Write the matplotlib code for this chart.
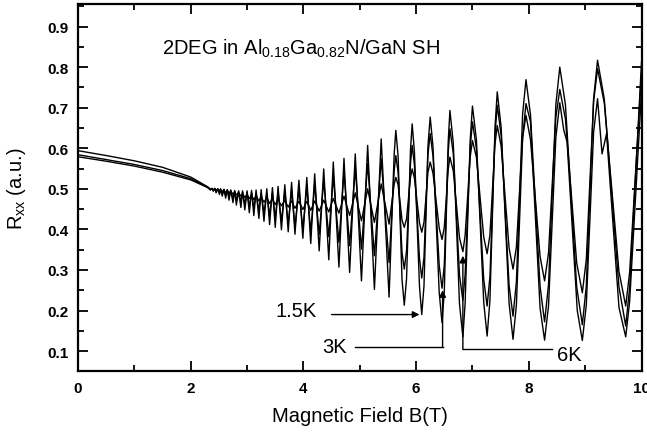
import matplotlib
matplotlib.use("Agg")
import matplotlib.pyplot as plt
from matplotlib.ticker import MultipleLocator

plt.rcParams['font.family'] = ['Liberation Sans', 'DejaVu Sans']
plt.rcParams['mathtext.fontset'] = 'custom'
plt.rcParams['mathtext.rm'] = 'Liberation Sans'
plt.rcParams['mathtext.it'] = 'Liberation Sans:italic'

# smooth low-field part (T)
B_LOW = [0.0, 0.5, 1.0, 1.5, 2.0, 2.3]
R_LOW_15K = [0.579, 0.568, 0.556, 0.541, 0.522, 0.503]
R_LOW_3K = [0.584, 0.572, 0.560, 0.545, 0.525, 0.504]
R_LOW_6K = [0.594, 0.582, 0.569, 0.553, 0.529, 0.505]

# positions of the SdH minima and maxima (T)
B_MIN = [2.35, 2.40, 2.45, 2.51, 2.56, 2.62, 2.68, 2.75, 2.81, 2.89, 2.96, 3.04,
         3.12, 3.21, 3.30, 3.40, 3.50, 3.61, 3.73, 3.85, 3.99, 4.13, 4.28, 4.45,
         4.63, 4.82, 5.03, 5.26, 5.52, 5.79, 6.10, 6.46, 6.83, 7.26, 7.72, 8.28,
         8.95, 9.72]
B_MAX = [2.38, 2.43, 2.48, 2.53, 2.59, 2.65, 2.71, 2.78, 2.85, 2.92, 3.00, 3.08,
         3.16, 3.25, 3.35, 3.45, 3.55, 3.67, 3.79, 3.92, 4.06, 4.20, 4.36, 4.53,
         4.72, 4.92, 5.14, 5.38, 5.64, 5.93, 6.25, 6.60, 7.00, 7.44, 7.95, 8.55,
         9.22]
B_END = 10.0
# points on the flanks of the large high-field oscillations
B_FLANK = [5.61, 5.68, 5.75, 5.83, 5.90, 5.97, 6.06, 6.14, 6.21, 6.30, 6.41, 6.50,
           6.57, 6.66, 6.77, 6.87, 6.96, 7.07, 7.20, 7.31, 7.40, 7.51, 7.65, 7.78,
           7.89, 8.03, 8.20, 8.35, 8.48, 8.65, 8.85, 9.02, 9.15, 9.34, 9.60, 9.79]
B_FLANK_15K = [5.61, 5.68, 5.75, 5.83, 5.90, 5.97, 6.06, 6.14, 6.21, 6.30, 6.41,
               6.50, 6.57, 6.66, 6.77, 6.87, 6.96, 7.07, 7.20, 7.31, 7.40, 7.51,
               7.65, 7.78, 7.89, 8.20, 8.35, 8.48, 8.86, 9.02, 9.15, 9.60, 9.79]

R_MIN_15K = [0.497, 0.494, 0.490, 0.486, 0.482, 0.477, 0.472, 0.466, 0.460, 0.454,
             0.448, 0.441, 0.434, 0.427, 0.420, 0.412, 0.405, 0.399, 0.394, 0.388,
             0.378, 0.365, 0.347, 0.325, 0.307, 0.294, 0.273, 0.252, 0.233, 0.213,
             0.190, 0.170, 0.135, 0.137, 0.129, 0.127, 0.126, 0.135]
R_MAX_15K = [0.501, 0.501, 0.500, 0.500, 0.499, 0.498, 0.497, 0.496, 0.495, 0.495,
             0.495, 0.496, 0.497, 0.498, 0.500, 0.503, 0.506, 0.510, 0.516, 0.521,
             0.528, 0.537, 0.549, 0.566, 0.575, 0.586, 0.607, 0.623, 0.644, 0.660,
             0.677, 0.693, 0.704, 0.739, 0.710, 0.712, 0.722]
R_FLANK_15K = [0.584, 0.581, 0.276, 0.278, 0.595, 0.591, 0.259, 0.261, 0.606, 0.603,
               0.244, 0.246, 0.617, 0.612, 0.216, 0.218, 0.621, 0.621, 0.220, 0.225,
               0.651, 0.650, 0.218, 0.214, 0.625, 0.206, 0.212, 0.627, 0.200, 0.213,
               0.640, 0.208, 0.223]
R_END_15K = 0.74
# spin-split structure on the 1.5K peaks
B_SPLIT_15K = [8.03, 8.62, 8.68, 9.30, 9.38]
R_SPLIT_15K = [0.665, 0.645, 0.615, 0.586, 0.636]

R_MIN_3K = [0.498, 0.496, 0.493, 0.490, 0.487, 0.484, 0.480, 0.476, 0.472, 0.467,
            0.462, 0.457, 0.452, 0.446, 0.440, 0.434, 0.428, 0.421, 0.414, 0.407,
            0.400, 0.394, 0.388, 0.382, 0.368, 0.360, 0.351, 0.335, 0.318, 0.302,
            0.280, 0.255, 0.225, 0.211, 0.186, 0.172, 0.165, 0.162]
R_MAX_3K = [0.501, 0.500, 0.500, 0.499, 0.498, 0.497, 0.496, 0.494, 0.493, 0.492,
            0.491, 0.490, 0.489, 0.489, 0.489, 0.490, 0.491, 0.493, 0.496, 0.500,
            0.505, 0.511, 0.520, 0.530, 0.540, 0.550, 0.562, 0.574, 0.582, 0.607,
            0.636, 0.648, 0.665, 0.706, 0.769, 0.800, 0.817]
R_FLANK_3K = [0.543, 0.541, 0.343, 0.347, 0.562, 0.559, 0.328, 0.332, 0.584, 0.580,
              0.311, 0.312, 0.591, 0.586, 0.287, 0.289, 0.601, 0.599, 0.277, 0.283,
              0.634, 0.630, 0.262, 0.271, 0.684, 0.682, 0.259, 0.264, 0.708, 0.707,
              0.258, 0.260, 0.722, 0.721, 0.258, 0.257]
R_END_3K = 0.812

R_MIN_6K = [0.499, 0.498, 0.497, 0.495, 0.493, 0.491, 0.489, 0.487, 0.485, 0.482,
            0.479, 0.476, 0.473, 0.470, 0.467, 0.464, 0.461, 0.458, 0.455, 0.452,
            0.449, 0.447, 0.445, 0.443, 0.440, 0.434, 0.421, 0.417, 0.413, 0.405,
            0.393, 0.375, 0.345, 0.340, 0.302, 0.273, 0.244, 0.211]
R_MAX_6K = [0.500, 0.500, 0.499, 0.498, 0.497, 0.496, 0.494, 0.492, 0.490, 0.488,
            0.486, 0.484, 0.482, 0.480, 0.478, 0.476, 0.474, 0.472, 0.470, 0.469,
            0.469, 0.470, 0.472, 0.476, 0.482, 0.490, 0.500, 0.512, 0.528, 0.549,
            0.566, 0.578, 0.619, 0.656, 0.681, 0.745, 0.796]
R_FLANK_6K = [0.511, 0.510, 0.423, 0.426, 0.528, 0.526, 0.416, 0.418, 0.541, 0.538,
              0.403, 0.405, 0.548, 0.544, 0.379, 0.385, 0.579, 0.578, 0.381, 0.386,
              0.610, 0.604, 0.354, 0.357, 0.626, 0.621, 0.333, 0.342, 0.676, 0.672,
              0.317, 0.325, 0.715, 0.711, 0.296, 0.295]
R_END_6K = 0.785


def build_curve(r_low, r_min, r_max, r_end, extra_b, extra_r):
    pts = list(zip(B_LOW, r_low)) + list(zip(B_MIN, r_min)) + list(zip(B_MAX, r_max))
    pts += list(zip(extra_b, extra_r))
    pts.append((B_END, r_end))
    pts.sort()
    return [p[0] for p in pts], [p[1] for p in pts]


fig = plt.figure(figsize=(6.47, 4.35), dpi=100)
ax = fig.add_axes([0.1206, 0.144, 0.8709, 0.844])

curves = [
    build_curve(R_LOW_15K, R_MIN_15K, R_MAX_15K, R_END_15K,
                B_FLANK_15K + B_SPLIT_15K, R_FLANK_15K + R_SPLIT_15K),
    build_curve(R_LOW_3K, R_MIN_3K, R_MAX_3K, R_END_3K, B_FLANK, R_FLANK_3K),
    build_curve(R_LOW_6K, R_MIN_6K, R_MAX_6K, R_END_6K, B_FLANK, R_FLANK_6K),
]
for bx, ry in curves:
    ax.plot(bx, ry, color='black', lw=1.0, solid_joinstyle='round')

ax.set_xlim(0, 10)
ax.set_ylim(0.05, 0.955)
ax.xaxis.set_major_locator(MultipleLocator(2))
ax.xaxis.set_minor_locator(MultipleLocator(1))
ax.yaxis.set_minor_locator(MultipleLocator(0.05))
ax.set_yticks([0.1, 0.2, 0.3, 0.4, 0.5, 0.6, 0.7, 0.8, 0.9])
ax.set_yticklabels(['0.1', '0.2', '0.3', '0.4', '0.5', '0.6', '0.7', '0.8', '0.9'])
ax.tick_params(which='both', direction='in', top=True, right=True, width=1.3)
ax.tick_params(which='major', length=7, labelsize=11, pad=7)
ax.tick_params(which='minor', length=4)
for lab in ax.get_xticklabels() + ax.get_yticklabels():
    lab.set_fontweight('bold')
for sp in ax.spines.values():
    sp.set_linewidth(1.6)

ax.set_xlabel('Magnetic Field B(T)', fontsize=14.5, labelpad=8)
ax.set_ylabel(r'R$_{\mathrm{xx}}$ (a.u.)', fontsize=14.5)
ax.yaxis.set_label_coords(-0.089, 0.5)

ax.text(0.149, 0.865, r'2DEG in Al$_{\mathrm{0.18}}$Ga$_{\mathrm{0.82}}$N/GaN SH',
        transform=ax.transAxes, fontsize=14.5, va='baseline', ha='left')

arrow = dict(arrowstyle='-|>', color='black', lw=1.0, mutation_scale=10,
             shrinkA=0, shrinkB=0)
ax.annotate('', xy=(6.06, 0.19), xytext=(4.50, 0.19), arrowprops=arrow)
ax.text(4.24, 0.2, '1.5K', fontsize=14.5, ha='right', va='center')

ax.plot([4.92, 6.47], [0.111, 0.111], color='black', lw=1.0)
ax.annotate('', xy=(6.47, 0.25), xytext=(6.47, 0.111), arrowprops=arrow)
ax.text(4.77, 0.112, '3K', fontsize=14.5, ha='right', va='center')

ax.plot([6.83, 8.41], [0.104, 0.104], color='black', lw=1.0)
ax.annotate('', xy=(6.83, 0.335), xytext=(6.83, 0.104), arrowprops=arrow)
ax.text(8.50, 0.092, '6K', fontsize=14.5, ha='left', va='center')

fig.savefig('out.png', dpi=100)
